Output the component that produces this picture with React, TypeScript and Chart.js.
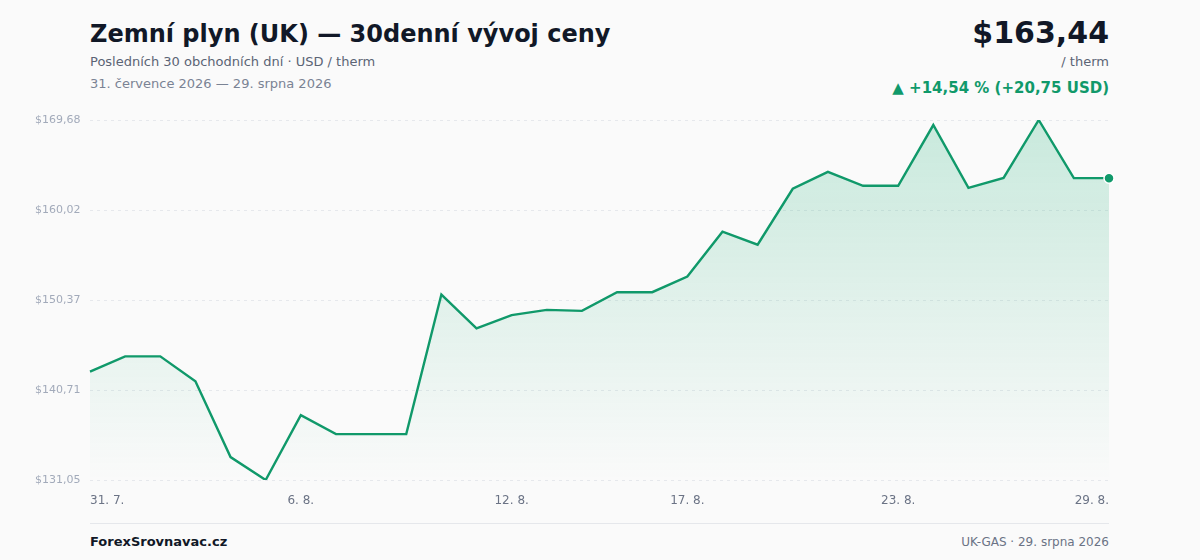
import React, { useEffect, useRef } from "react";
import { Chart, registerables } from "chart.js";

Chart.register(...registerables);

const dateLabels: string[] = [
  "31. 7.", "1. 8.", "2. 8.", "3. 8.", "4. 8.", "5. 8.", "6. 8.", "7. 8.", "8. 8.", "9. 8.",
  "10. 8.", "11. 8.", "12. 8.", "13. 8.", "14. 8.", "15. 8.", "16. 8.", "17. 8.", "18. 8.", "19. 8.",
  "20. 8.", "21. 8.", "22. 8.", "23. 8.", "24. 8.", "25. 8.", "26. 8.", "27. 8.", "28. 8.", "29. 8.",
];

const shownTickLabels: string[] = ["31. 7.", "6. 8.", "12. 8.", "17. 8.", "23. 8.", "29. 8."];

const priceValues: number[] = [
  142.69, 144.32, 144.32, 141.64, 133.51, 131.05, 138.01, 135.97, 135.97, 135.97,
  150.95, 147.32, 148.75, 149.30, 149.20, 151.20, 151.20, 152.88, 157.69, 156.30,
  162.30, 164.12, 162.62, 162.62, 169.14, 162.40, 163.47, 169.68, 163.44, 163.44,
];

const yMin = 131.05;
const yMax = 169.68;

const GREEN = "#10996a";

const fmt = (v: number) => "$" + v.toFixed(2).replace(".", ",");

export default function App() {
  const canvasRef = useRef<HTMLCanvasElement | null>(null);

  useEffect(() => {
    document.body.style.margin = "0";
    const canvas = canvasRef.current;
    if (!canvas) return;
    const last = priceValues.length - 1;
    const chart = new Chart(canvas, {
      type: "line",
      data: {
        labels: dateLabels,
        datasets: [
          {
            data: priceValues,
            borderColor: GREEN,
            borderWidth: 2.4,
            tension: 0,
            fill: "start",
            backgroundColor: (ctx: any) => {
              const area = ctx.chart.chartArea;
              if (!area) return "rgba(16,170,110,0.1)";
              const g = ctx.chart.ctx.createLinearGradient(0, area.top, 0, area.bottom);
              g.addColorStop(0, "rgba(16,170,110,0.21)");
              g.addColorStop(1, "rgba(16,170,110,0.0)");
              return g;
            },
            pointRadius: (ctx: any) => (ctx.dataIndex === last ? 5 : 0),
            pointBackgroundColor: GREEN,
            pointBorderColor: "#ffffff",
            pointBorderWidth: 1.5,
            pointHoverRadius: 0,
          },
        ],
      },
      options: {
        animation: false,
        responsive: false,
        maintainAspectRatio: false,
        layout: { padding: { left: 35, right: 91, top: 20, bottom: 0 } },
        plugins: { legend: { display: false }, tooltip: { enabled: false } },
        scales: {
          x: {
            grid: { display: false, drawTicks: false },
            border: { display: false },
            afterFit: (s: any) => {
              s.height = 40;
            },
            ticks: {
              autoSkip: false,
              maxRotation: 0,
              align: "inner",
              padding: 14,
              color: "#6b7385",
              font: { family: "DejaVu Sans", size: 12 },
              callback: function (this: any, _v: any, i: number) {
                const l = dateLabels[i];
                return shownTickLabels.includes(l) ? l : "";
              },
            },
          },
          y: {
            min: yMin,
            max: yMax,
            afterFit: (s: any) => {
              s.width = 55;
            },
            afterBuildTicks: (s: any) => {
              const n = 4;
              s.ticks = Array.from({ length: n + 1 }, (_, i) => ({ value: yMin + ((yMax - yMin) * i) / n }));
            },
            grid: {
              color: "#e6e8ec",
              lineWidth: 1,
              drawTicks: false,
            },
            border: { display: false, dash: [3, 4] },
            ticks: {
              crossAlign: "far",
              padding: 0,
              color: "#a2aaba",
              font: { family: "DejaVu Sans", size: 11 },
              callback: (v: any) => fmt(Number(v)),
            },
          },
        },
      } as any,
    });
    return () => chart.destroy();
  }, []);

  const font = "'DejaVu Sans', sans-serif";
  return (
    <div style={{ position: "fixed", left: 0, top: 0, width: 1200, height: 560, background: "#fafafa", fontFamily: font, overflow: "hidden" }}>
      <div style={{ position: "absolute", left: 90, top: 20, fontSize: 24, fontWeight: 700, color: "#111827", whiteSpace: "nowrap" }}>
        Zemní plyn (UK) — 30denní vývoj ceny
      </div>
      <div style={{ position: "absolute", left: 90, top: 54, fontSize: 13, color: "#5b6475", whiteSpace: "nowrap" }}>
        Posledních 30 obchodních dní · USD / therm
      </div>
      <div style={{ position: "absolute", left: 90, top: 76, fontSize: 13, color: "#7a8394", whiteSpace: "nowrap" }}>
        31. července 2026 — 29. srpna 2026
      </div>
      <div style={{ position: "absolute", right: 91, top: 15, fontSize: 30, fontWeight: 700, color: "#111827", whiteSpace: "nowrap" }}>
        $163,44
      </div>
      <div style={{ position: "absolute", right: 91, top: 54, fontSize: 13, color: "#5b6475", whiteSpace: "nowrap" }}>
        / therm
      </div>
      <div style={{ position: "absolute", right: 91, top: 79, fontSize: 15, fontWeight: 700, color: GREEN, whiteSpace: "nowrap" }}>
        ▲ +14,54 % (+20,75 USD)
      </div>
      <canvas ref={canvasRef} width={1200} height={420} style={{ position: "absolute", left: 0, top: 100, width: 1200, height: 420 }} />
      <div style={{ position: "absolute", left: 90, top: 523, width: 1019, height: 1, background: "#e5e7eb" }} />
      <div style={{ position: "absolute", left: 90, top: 534, fontSize: 13, fontWeight: 700, color: "#111827", whiteSpace: "nowrap" }}>
        ForexSrovnavac.cz
      </div>
      <div style={{ position: "absolute", right: 91, top: 535, fontSize: 12, color: "#6b7385", whiteSpace: "nowrap" }}>
        UK-GAS · 29. srpna 2026
      </div>
    </div>
  );
}
